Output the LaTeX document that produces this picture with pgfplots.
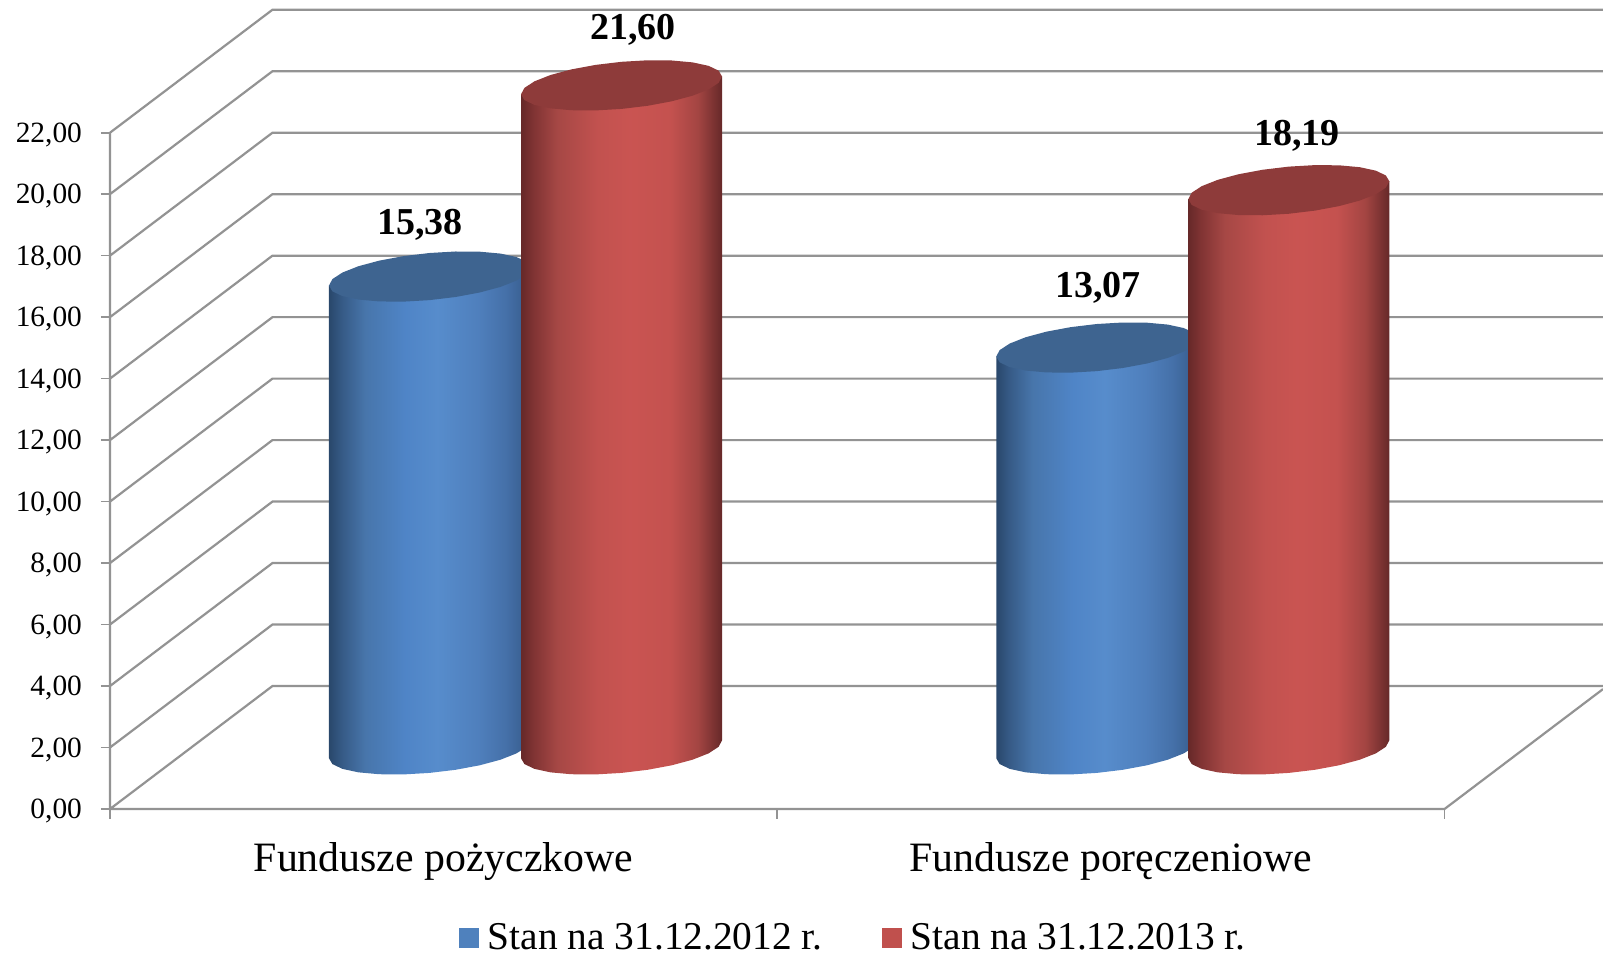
\documentclass[border=0pt]{standalone}
\usepackage{pgfplots}
\usepackage{pgfplotstable}
\usepackage{fontspec}
\setmainfont{Liberation Serif}
\pgfplotsset{compat=1.18}
\definecolor{gridc}{HTML}{939393}
\definecolor{bluetop}{HTML}{3E6490}
\definecolor{redtop}{HTML}{8E3B3A}
\definecolor{bluebox}{HTML}{4F81BD}
\definecolor{redbox}{HTML}{C0504D}
\pgfdeclarehorizontalshading{cylblue}{100bp}{
 rgb(0bp)=(.16,.28,.42); rgb(25bp)=(.16,.28,.42);
 rgb(28bp)=(.21,.35,.52); rgb(34bp)=(.28,.46,.67); rgb(44bp)=(.31,.52,.78);
 rgb(52bp)=(.34,.55,.80); rgb(62bp)=(.31,.50,.74); rgb(69bp)=(.27,.44,.66);
 rgb(75bp)=(.21,.35,.54); rgb(100bp)=(.21,.35,.54)}
\pgfdeclarehorizontalshading{cylred}{100bp}{
 rgb(0bp)=(.40,.16,.16); rgb(25bp)=(.40,.16,.16);
 rgb(28bp)=(.50,.20,.20); rgb(34bp)=(.65,.28,.27); rgb(44bp)=(.76,.32,.31);
 rgb(52bp)=(.79,.33,.32); rgb(62bp)=(.77,.32,.31); rgb(69bp)=(.64,.27,.26);
 rgb(75bp)=(.40,.16,.16); rgb(100bp)=(.40,.16,.16)}
\pgfplotstableread{
x y
0 0
0.2435 4
2.2375 4
nan nan
0 2
0.2435 6
2.2375 6
nan nan
0 4
0.2435 8
2.2375 8
nan nan
0 6
0.2435 10
2.2375 10
nan nan
0 8
0.2435 12
2.2375 12
nan nan
0 10
0.2435 14
2.2375 14
nan nan
0 12
0.2435 16
2.2375 16
nan nan
0 14
0.2435 18
2.2375 18
nan nan
0 16
0.2435 20
2.2375 20
nan nan
0 18
0.2435 22
2.2375 22
nan nan
0 20
0.2435 24
2.2375 24
nan nan
0 22
0.2435 26
2.2375 26
nan nan
0 22
0 0
2 0
2.2375 3.9
}\gridtable
\pgfplotstableread{
x y
0.1506 0.277
0.1455 0.4565
0.1304 0.6049
0.1065 0.7121
0.0753 0.7707
0.0390 0.7768
0 0.730
-0.0390 0.6334
-0.0753 0.4937
-0.1065 0.3203
-0.1304 0.1251
-0.1455 -0.0787
-0.1506 -0.277
-0.1455 -0.4565
-0.1304 -0.6049
-0.1065 -0.7121
-0.0753 -0.7707
-0.0390 -0.7768
0 -0.730
0.0390 -0.6334
0.0753 -0.4937
0.1065 -0.3203
0.1304 -0.1251
0.1455 0.0787
}\ellipsetable
\pgfplotstableread{
x y top
-0.1506 -0.277 0
-0.1455 -0.4565 0
-0.1304 -0.6049 0
-0.1065 -0.7121 0
-0.0753 -0.7707 0
-0.0390 -0.7768 0
0 -0.730 0
0.0390 -0.6334 0
0.0753 -0.4937 0
0.1065 -0.3203 0
0.1304 -0.1251 0
0.1455 0.0787 0
0.1506 0.277 0
0.1506 0.277 1
-0.1506 -0.277 1
}\bodytable
\newcommand{\cyl}[4]{%
 \addplot[draw=none,shade,shading=#3,forget plot] table[x expr=\thisrow{x}+#1,y expr=\thisrow{y}*1.05+1.94+\thisrow{top}*#2]{\bodytable};
 \addplot[draw=none,fill=#4,forget plot] table[x expr=\thisrow{x}+#1,y expr=\thisrow{y}*1.05+1.94+#2]{\ellipsetable};
}
\begin{document}
\begin{tikzpicture}
\path[use as bounding box] (-55pt,-74pt) rectangle (746.5pt,404.5pt);
\begin{axis}[
 at={(0pt,0pt)},anchor=south west,
 scale only axis,width=746.5pt,height=402.7pt,
 xmin=0,xmax=2.2375,ymin=0,ymax=26.2,
 clip=false,
 axis line style={draw=none},
 tick align=outside,
 xtick pos=bottom,ytick pos=left,
 ytick={0,2,...,22},
 xtick={0.5,1.5},
 xticklabels={Fundusze pożyczkowe,Fundusze poręczeniowe},
 major x tick style={draw=none},
 minor xtick={0,1,2},
 minor tick length=5pt,
 major tick length=4.5pt,
 every tick/.style={gridc,line width=.8pt},
 xticklabel style={font=\fontsize{20.9}{24}\selectfont,yshift=-8.5pt},
 yticklabel style={font=\fontsize{14.7}{16}\selectfont,xshift=-6pt,yshift=-1pt},
 yticklabel={\pgfmathprintnumber[fixed,fixed zerofill,precision=2,use comma,assume math mode=true]{\tick}},
 legend style={draw=none,fill=none,inner sep=0pt,at={(0.4985,-0.1605)},anchor=center,legend columns=2,
  font=\fontsize{19.7}{22}\selectfont,
  nodes={inner ysep=1pt},
  /tikz/column 1/.style={column sep=2.5pt},
  /tikz/column 2/.style={column sep=27.5pt},
  /tikz/column 3/.style={column sep=2.5pt}},
 legend image code/.code={\fill[#1] (0pt,-5pt) rectangle (10pt,5pt);},
]
\addplot[gridc,line width=1.1pt,unbounded coords=jump,forget plot] table[x=x,y=y]{\gridtable};
\cyl{0.4788}{15.38}{cylblue}{bluetop}
\cyl{0.7666}{21.60}{cylred}{redtop}
\cyl{1.4788}{13.07}{cylblue}{bluetop}
\cyl{1.7666}{18.19}{cylred}{redtop}
\addlegendimage{fill=bluebox,draw=none}\addlegendentry{Stan na 31.12.2012 r.}
\addlegendimage{fill=redbox,draw=none}\addlegendentry{Stan na 31.12.2013 r.}
\node[font=\fontsize{19}{20}\selectfont\bfseries] at (axis cs:0.4646,19.0) {15,38};
\node[font=\fontsize{19}{20}\selectfont\bfseries] at (axis cs:0.7838,25.35) {21,60};
\node[font=\fontsize{19}{20}\selectfont\bfseries] at (axis cs:1.4808,16.94) {13,07};
\node[font=\fontsize{19}{20}\selectfont\bfseries] at (axis cs:1.7789,21.9) {18,19};
\end{axis}
\end{tikzpicture}
\end{document}
